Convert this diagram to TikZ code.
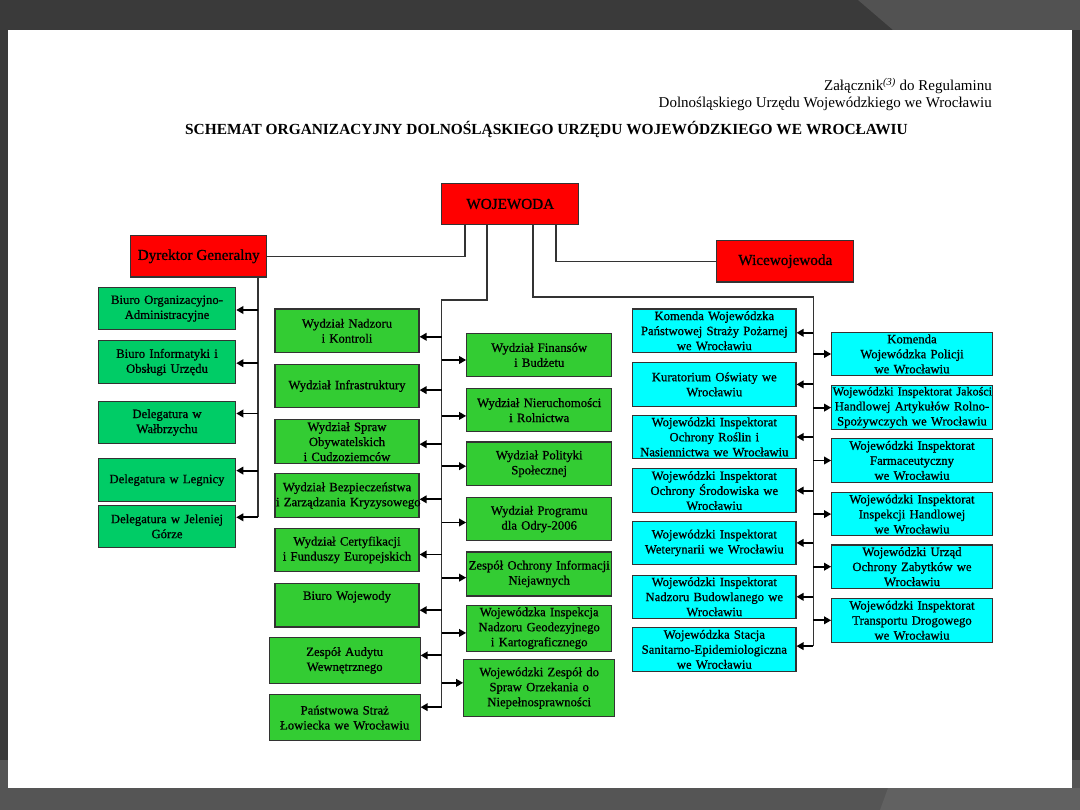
\documentclass[tikz,border=0pt]{standalone}
\usepackage{fontspec}
\setmainfont{Liberation Serif}
\newfontfamily\boxff[FakeBold=0.8]{Liberation Serif}
\usepackage{tikz}
\usetikzlibrary{arrows.meta, positioning, calc}
\definecolor{wred}    {HTML}{FF0000}
\definecolor{wcyan}   {HTML}{00FFFF}
\definecolor{wgreen}  {HTML}{33CC33}
\definecolor{dgreen}  {HTML}{00CC66}
\definecolor{linegray}{HTML}{333333}
\definecolor{bgdark}  {HTML}{3A3A3A}
\definecolor{bglight} {HTML}{555555}
\newcommand{\boxfont}{\boxff\fontsize{12.7}{15}\selectfont}

\begin{document}
\begin{tikzpicture}[
    x=1pt, y=-1pt,
    box/.style={draw=linegray, line width=1.1pt, inner sep=1pt,
                align=center, font=\boxfont, minimum height=43.5pt},
    boss/.style={box, fill=wred, font=\boxff\fontsize{15.2}{18}\selectfont,
                 minimum width=137pt, minimum height=41.5pt},
    lbox/.style={box, fill=dgreen, text width=135.4pt, minimum height=42.5pt},
    gbox/.style={box, fill=wgreen, text width=142pt},
    hbox/.style={box, fill=wgreen, text width=143pt},
    cbox/.style={box, fill=wcyan, text width=161.3pt},
    rbox/.style={box, fill=wcyan, text width=158.6pt},
    conn/.style={draw=linegray, line width=1.2pt},
    arr/.style={-{Triangle[length=7pt,width=7.5pt]}, line width=1.9pt, draw=black},
  ]
    % slide background
    \fill[bglight] (0,0) rectangle (1080,810);
    \fill[bgdark] (0,0) rectangle (1080,30);
    \fill[bgdark] (0,0) rectangle (8,760);
    \fill[bgdark] (1072,0) rectangle (1080,760);
    \fill[black!68] (858,0) -- (1080,0) -- (1080,30) -- (893,30) -- cycle;
    \fill[black!62] (888,788) -- (1080,788) -- (1080,810) -- (880,810) -- cycle;
    \fill[white] (8,30) rectangle (1072,788);
    \useasboundingbox (0,0) rectangle (1080,810);

    % heading
    \node[anchor=base east, inner sep=0pt, font=\fontsize{15}{18}\selectfont] (hdra) at (992,90.5)
      {Załącznik\textsuperscript{\textit{(3)}} do Regulaminu};
    \node[anchor=base east, inner sep=0pt, font=\fontsize{15}{18}\selectfont] (hdrb) at (992,107.5)
      {Dolnośląskiego Urzędu Wojewódzkiego we Wrocławiu};
    \node[anchor=base, inner sep=0pt, font=\bfseries\fontsize{15.4}{18}\selectfont] (title) at (546.5,135)
      {SCHEMAT ORGANIZACYJNY DOLNOŚLĄSKIEGO URZĘDU WOJEWÓDZKIEGO WE WROCŁAWIU};

    % top level
    \node[boss] (woj) at (510.3,204) {WOJEWODA};
    \node[boss, minimum width=136pt] (dyr) at (198.7,256.3) {Dyrektor Generalny};
    \node[boss] (wice) at (785.3,261.3) {Wicewojewoda};

    % left column, under Dyrektor Generalny
    \node[lbox] (borg) at (167,308.6) {Biuro Organizacyjno-\\Administracyjne};
    \node[lbox, below=10pt of borg] (binf) {Biuro Informatyki i\\Obsługi Urzędu};
    \node[lbox, below=16.7pt of binf] (bwal) {Delegatura w\\Wałbrzychu};
    \node[lbox, below=14pt of bwal] (bleg) {Delegatura w Legnicy};
    \node[lbox, below=2.6pt of bleg] (bjel) {Delegatura w Jeleniej\\Górze};

    % middle, left of the spine
    \node[gbox] (wnk) at (347,330.8) {Wydział Nadzoru\\i Kontroli};
    \node[gbox, below=10.7pt of wnk] (winf) {Wydział Infrastruktury};
    \node[gbox, below=11pt of winf] (wso) {Wydział Spraw\\Obywatelskich\\i Cudzoziemców};
    \node[gbox, below=9.4pt of wso] (wbz) {Wydział Bezpieczeństwa\\\mbox{i Zarządzania Kryzysowego}};
    \node[gbox, below=9.6pt of wbz] (wcf) {Wydział Certyfikacji\\i Funduszy Europejskich};
    \node[gbox, below=10.7pt of wcf] (bwoj) {Biuro Wojewody\\\strut};
    \node[gbox, text width=148.7pt, minimum height=45.3pt, below=9.7pt of bwoj, xshift=-2.3pt] (zaw)
      {Zespół Audytu\\Wewnętrznego};
    \node[gbox, text width=148.7pt, minimum height=45.6pt, below=10.7pt of zaw] (psl)
      {Państwowa Straż\\Łowiecka we Wrocławiu};

    % middle, right of the spine
    \node[hbox] (wfb) at (539.2,355) {Wydział Finansów\\i Budżetu};
    \node[hbox, below=10.6pt of wfb] (wnr) {Wydział Nieruchomości\\i Rolnictwa};
    \node[hbox, below=9pt of wnr] (wps) {Wydział Polityki\\Społecznej};
    \node[hbox, below=10.7pt of wps] (wpo) {Wydział Programu\\dla Odry-2006};
    \node[hbox, minimum height=44pt, below=10pt of wpo] (zoin) {\mbox{Zespół Ochrony Informacji}\\Niejawnych};
    \node[hbox, minimum height=45.7pt, below=8.3pt of zoin] (wingk)
      {Wojewódzka Inspekcja\\Nadzoru Geodezyjnego\\i Kartograficznego};
    \node[hbox, text width=149pt, minimum height=57.4pt, below=7.3pt of wingk] (wzon)
      {Wojewódzki Zespół do\\Spraw Orzekania o\\Niepełnosprawności};

    % right side, left of the spine
    \node[cbox] (kpsp) at (714.3,330.8) {Komenda Wojewódzka\\Państwowej Straży Pożarnej\\we Wrocławiu};
    \node[cbox, below=9pt of kpsp] (kur) {Kuratorium Oświaty we\\Wrocławiu};
    \node[cbox, below=8pt of kur] (wior) {Wojewódzki Inspektorat\\Ochrony Roślin i\\Nasiennictwa we Wrocławiu};
    \node[cbox, below=9pt of wior] (wios) {Wojewódzki Inspektorat\\Ochrony Środowiska we\\Wrocławiu};
    \node[cbox, below=7.7pt of wios] (wiw) {Wojewódzki Inspektorat\\Weterynarii we Wrocławiu};
    \node[cbox, below=9.3pt of wiw] (winb) {Wojewódzki Inspektorat\\Nadzoru Budowlanego we\\Wrocławiu};
    \node[cbox, below=8pt of winb] (wss) {Wojewódzka Stacja\\\mbox{Sanitarno-Epidemiologiczna}\\we Wrocławiu};

    % right side, right of the spine
    \node[rbox] (kwp) at (912,354) {Komenda\\Wojewódzka Policji\\we Wrocławiu};
    \node[rbox, below=9pt of kwp] (wijh)
      {\mbox{\fontsize{12.1}{15}\selectfont Wojewódzki Inspektorat Jakości}\\\mbox{Handlowej Artykułów Rolno-}\\Spożywczych we Wrocławiu};
    \node[rbox, below=8.3pt of wijh] (wif) {Wojewódzki Inspektorat\\Farmaceutyczny\\we Wrocławiu};
    \node[rbox, below=9pt of wif] (wih) {Wojewódzki Inspektorat\\Inspekcji Handlowej\\we Wrocławiu};
    \node[rbox, below=8pt of wih] (wuoz) {Wojewódzki Urząd\\Ochrony Zabytków we\\Wrocławiu};
    \node[rbox, below=9pt of wuoz] (witd) {Wojewódzki Inspektorat\\Transportu Drogowego\\we Wrocławiu};

    % links from WOJEWODA
    \coordinate (lefttop) at ([xshift=59.3pt]dyr.south);
    \coordinate (midtop) at (441.7,300);
    \coordinate (cyantop) at (813.3,297);
    \draw[conn] ([xshift=-45.3pt]woj.south) |- (dyr.east);
    \draw[conn] ([xshift=45.7pt]woj.south) |- (wice.west);
    \draw[conn] ([xshift=-23.3pt]woj.south) |- (midtop) -- ($(midtop |- psl.east)+(0,-10.5)$);
    \draw[conn] ([xshift=22.7pt]woj.south) |- (cyantop) -- ($(cyantop |- wss.east)+(0,-3.3)$);
    \draw[conn] (lefttop) -- ($(lefttop |- bjel.east)+(0,-9)$);

    % left spine
    \draw[arr] ($(lefttop |- borg.east)+(0,1.4)$) -- ($(borg.east)+(0,1.4)$);
    \draw[arr] ($(lefttop |- binf.east)+(0,1)$) -- ($(binf.east)+(0,1)$);
    \draw[arr] ($(lefttop |- bwal.east)+(0,-9)$) -- ($(bwal.east)+(0,-9)$);
    \draw[arr] ($(lefttop |- bleg.east)+(0,-9.5)$) -- ($(bleg.east)+(0,-9.5)$);
    \draw[arr] ($(lefttop |- bjel.east)+(0,-9)$) -- ($(bjel.east)+(0,-9)$);

    % middle spine
    \draw[arr] ($(midtop |- wnk.east)+(0,6)$) -- ($(wnk.east)+(0,6)$);
    \draw[arr] ($(midtop |- winf.east)+(0,4)$) -- ($(winf.east)+(0,4)$);
    \draw[arr] ($(midtop |- wso.east)+(0,2.5)$) -- ($(wso.east)+(0,2.5)$);
    \draw[arr] ($(midtop |- wbz.east)+(0,3.6)$) -- ($(wbz.east)+(0,3.6)$);
    \draw[arr] ($(midtop |- wcf.east)+(0,4.6)$) -- ($(wcf.east)+(0,4.6)$);
    \draw[arr] ($(midtop |- bwoj.east)+(0,5)$) -- ($(bwoj.east)+(0,5)$);
    \draw[arr] ($(midtop |- zaw.east)+(0,-5)$) -- ($(zaw.east)+(0,-5)$);
    \draw[arr] ($(midtop |- psl.east)+(0,-10.5)$) -- ($(psl.east)+(0,-10.5)$);
    \draw[arr] ($(midtop |- wfb.west)+(0,5)$) -- ($(wfb.west)+(0,5)$);
    \draw[arr] ($(midtop |- wnr.west)+(0,5.7)$) -- ($(wnr.west)+(0,5.7)$);
    \draw[arr] ($(midtop |- wps.west)+(0,2.4)$) -- ($(wps.west)+(0,2.4)$);
    \draw[arr] ($(midtop |- wpo.west)+(0,3.4)$) -- ($(wpo.west)+(0,3.4)$);
    \draw[arr] ($(midtop |- zoin.west)+(0,3.7)$) -- ($(zoin.west)+(0,3.7)$);
    \draw[arr] ($(midtop |- wingk.west)+(0,4.7)$) -- ($(wingk.west)+(0,4.7)$);
    \draw[arr] ($(midtop |- wzon.west)+(0,-5.3)$) -- ($(wzon.west)+(0,-5.3)$);

    % right spine
    \draw[arr] ($(cyantop |- kpsp.east)+(0,2)$) -- ($(kpsp.east)+(0,2)$);
    \draw[arr] (cyantop |- kur.east) -- (kur.east);
    \draw[arr] (cyantop |- wior.east) -- (wior.east);
    \draw[arr] (cyantop |- wios.east) -- (wios.east);
    \draw[arr] (cyantop |- wiw.east) -- (wiw.east);
    \draw[arr] (cyantop |- winb.east) -- (winb.east);
    \draw[arr] ($(cyantop |- wss.east)+(0,-3.3)$) -- ($(wss.east)+(0,-3.3)$);
    \draw[arr] (cyantop |- kwp.west) -- (kwp.west);
    \draw[arr] (cyantop |- wijh.west) -- (wijh.west);
    \draw[arr] (cyantop |- wif.west) -- (wif.west);
    \draw[arr] (cyantop |- wih.west) -- (wih.west);
    \draw[arr] (cyantop |- wuoz.west) -- (wuoz.west);
    \draw[arr] (cyantop |- witd.west) -- (witd.west);
\end{tikzpicture}
\end{document}
